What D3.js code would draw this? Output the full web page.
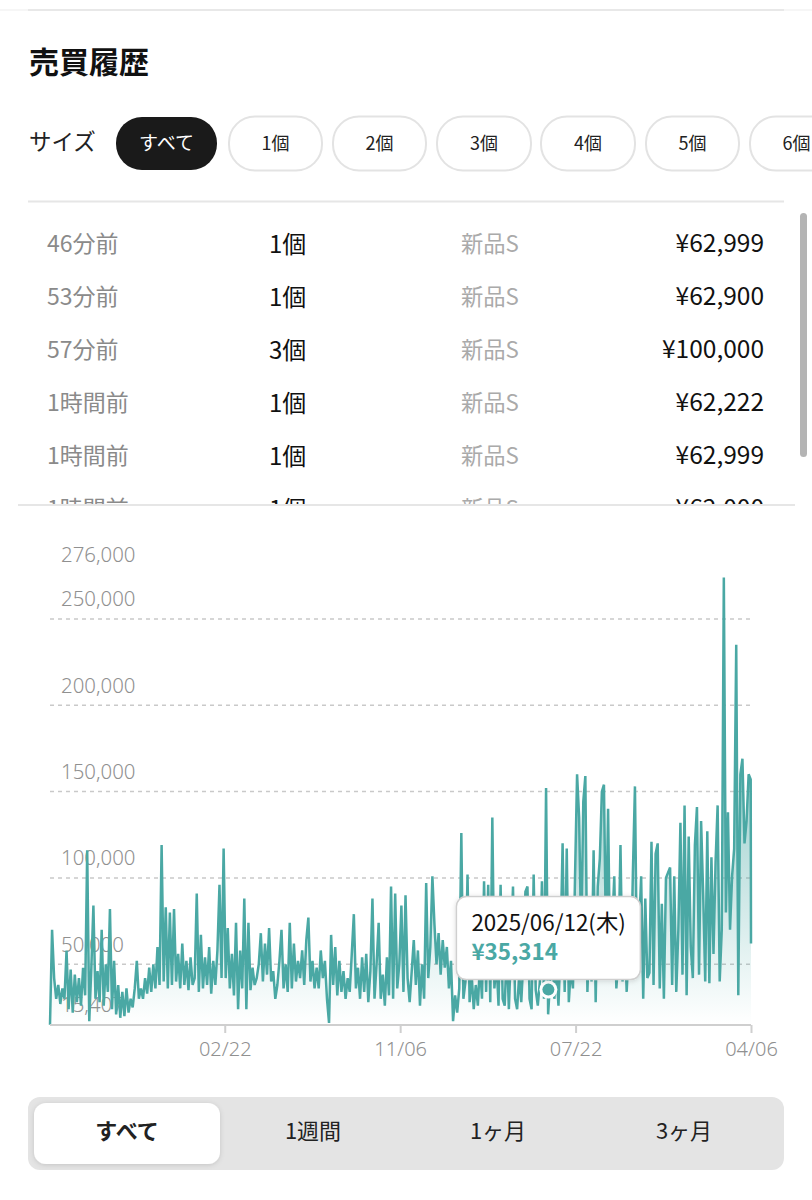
<!DOCTYPE html>
<html lang="ja"><head><meta charset="utf-8">
<script src="https://cdn.jsdelivr.net/npm/d3@7"></script>
<style>
html,body{margin:0;padding:0;background:#fff;overflow:hidden}
svg{display:block}
text{font-family:"Noto Sans CJK JP","Noto Sans",sans-serif}
</style></head><body>
<svg id="c" width="812" height="1200" viewBox="0 0 812 1200"></svg>
<script>
// ---------- data ----------
const sizeLabels = ["すべて","1個","2個","3個","4個","5個","6個"];
const rowTimes = ["46分前","53分前","57分前","1時間前","1時間前","1時間前"];
const rowSizes = ["1個","1個","3個","1個","1個","1個"];
const rowConditions = ["新品S","新品S","新品S","新品S","新品S","新品S"];
const rowPrices = ["¥62,999","¥62,900","¥100,000","¥62,222","¥62,999","¥62,000"];
const rangeLabels = ["すべて","1週間","1ヶ月","3ヶ月"];
const yTicks = [15407,50000,100000,150000,200000,250000,276000];
const gridTicks = [50000,100000,150000,200000,250000];
const xTickDates = ["2024-02-22","2024-11-06","2025-07-22","2026-04-06"];
const startDate = "2023-06-10";
const endDate = "2026-04-06";
const stepDays = 3.04;
const tooltipDate = "2025-06-12";
const tooltipPrice = 35314;
// prices in thousand yen, one reading about every three days
const pricesK = [
15,70,42,30,38,27,36,30,58,24,
47,22,44,28,42,26,48,32,116,17,
48,84,30,46,28,70,26,50,34,82,
24,52,21,38,19,34,20,36,22,30,
25,36,52,30,36,30,42,33,48,34,
50,36,60,38,119,40,83,36,80,38,
82,40,56,36,62,38,52,35,54,38,
42,91,34,67,36,54,38,60,33,52,
38,58,96,42,117,42,71,36,56,32,
74,24,58,36,88,24,74,35,48,38,
42,50,68,40,62,44,71,40,46,30,
38,52,70,36,50,34,74,36,62,40,
52,42,58,38,64,77,40,52,36,48,
36,58,42,52,30,16,67,38,60,32,
52,34,46,30,42,34,56,79,36,48,
30,54,34,56,28,46,88,30,50,74,
30,44,26,54,32,95,30,91,36,50,
84,34,90,42,28,46,64,38,58,26,
50,30,97,42,60,101,73,50,68,44,
64,48,60,36,52,17,32,22,36,126,
30,40,102,28,44,24,38,26,50,30,
98,34,96,28,135,36,52,26,96,30,
26,60,24,58,95,30,24,44,28,52,
92,95,30,24,102,35,26,40,98,30,
152,21,42,58,30,46,26,60,120,34,
117,28,48,36,100,160,135,62,144,159,
34,72,40,116,28,95,111,150,154,60,
140,48,72,101,36,54,119,40,70,34,
60,42,103,153,44,70,101,30,88,42,
45,121,38,114,120,36,85,30,100,103,
106,38,101,34,70,132,44,142,32,124,
60,42,119,141,44,133,91,40,127,39,
112,56,109,142,40,70,274,80,138,70,
101,117,235,32,160,169,120,133,160,157,
62];

// ---------- layout ----------
const W = 812, plot = {left:50,right:751,top:574,bottom:1024};
const teal = "#4aa8a4";
const svg = d3.select("#c");
const defs = svg.append("defs");

const parse = d3.timeParse("%Y-%m-%d");
const t0 = parse(startDate), t1 = parse(endDate);
const series = pricesK.map((k,i)=>({
  date:new Date(Math.min(+t1, +t0 + i*stepDays*864e5)),
  value:k*1000
}));
const x = d3.scaleTime().domain([t0,t1]).range([plot.left,plot.right]);
const y = d3.scaleLinear().domain([15407,276000]).range([plot.bottom,plot.top]);

const grad = defs.append("linearGradient").attr("id","fade")
  .attr("gradientUnits","userSpaceOnUse")
  .attr("x1",0).attr("x2",0).attr("y1",plot.top).attr("y2",plot.bottom);
grad.append("stop").attr("offset",0).attr("stop-color",teal).attr("stop-opacity",0.95);
grad.append("stop").attr("offset",1).attr("stop-color",teal).attr("stop-opacity",0);

defs.append("clipPath").attr("id","listClip").append("rect")
  .attr("x",0).attr("y",205).attr("width",W).attr("height",300);
const shadow = defs.append("filter").attr("id","sh").attr("x","-20%").attr("y","-20%").attr("width","140%").attr("height","150%");
shadow.append("feDropShadow").attr("dx",0).attr("dy",1).attr("stdDeviation",2.5).attr("flood-color","#000").attr("flood-opacity",0.14);

// ---------- header ----------
svg.append("rect").attr("width",W).attr("height",1200).attr("fill","#fff");
svg.append("line").attr("x1",0).attr("x2",W).attr("y1",10).attr("y2",10).attr("stroke","#f6f6f6").attr("stroke-width",2);
svg.append("line").attr("x1",28).attr("x2",784).attr("y1",10).attr("y2",10).attr("stroke","#e8e8e8").attr("stroke-width",2);
svg.append("text").attr("x",29).attr("y",73).attr("font-size",30).attr("font-weight",700).attr("fill","#111").text("売買履歴");
svg.append("text").attr("x",29).attr("y",150).attr("font-size",22.5).attr("fill","#222").text("サイズ");

const pillX = [116,229,333,437,541,646,750], pillW = [101,93,93,94,94,93,93];
const pills = svg.append("g").selectAll("g").data(sizeLabels).join("g");
pills.append("rect")
  .attr("x",(d,i)=>pillX[i]).attr("y",(d,i)=>i?116.5:117)
  .attr("width",(d,i)=>pillW[i]).attr("height",(d,i)=>i?54:53).attr("rx",26)
  .attr("fill",(d,i)=>i?"#fff":"#1a1a1a").attr("stroke",(d,i)=>i?"#e3e3e3":"none").attr("stroke-width",2);
pills.append("text")
  .attr("x",(d,i)=>pillX[i]+pillW[i]/2).attr("y",150).attr("text-anchor","middle")
  .attr("font-size",(d,i)=>i?18:19).attr("fill",(d,i)=>i?"#222":"#fff").text(d=>d);
svg.append("line").attr("x1",28).attr("x2",784).attr("y1",201.5).attr("y2",201.5).attr("stroke","#e6e6e6").attr("stroke-width",2);

// ---------- list ----------
const list = svg.append("g").attr("clip-path","url(#listClip)");
const rowY = i => 252 + i*53;
list.selectAll("text.a").data(rowTimes).join("text").attr("class","a")
  .attr("x",47).attr("y",(d,i)=>rowY(i)).attr("font-size",23).attr("fill","#8a8a8a").text(d=>d);
list.selectAll("text.b").data(rowSizes).join("text").attr("class","b")
  .attr("x",269).attr("y",(d,i)=>rowY(i)+1).attr("font-size",24).attr("fill","#111").text(d=>d);
list.selectAll("text.c").data(rowConditions).join("text").attr("class","c")
  .attr("x",461).attr("y",(d,i)=>rowY(i)).attr("font-size",22.3).attr("fill","#aaa").text(d=>d);
list.selectAll("text.d").data(rowPrices).join("text").attr("class","d")
  .attr("x",764).attr("y",(d,i)=>rowY(i)).attr("text-anchor","end").attr("font-size",24.5).attr("fill","#111").text(d=>d);
svg.append("rect").attr("x",800).attr("y",213).attr("width",7).attr("height",244).attr("rx",3.5).attr("fill","#b4b4b4");
svg.append("line").attr("x1",18).attr("x2",795).attr("y1",505).attr("y2",505).attr("stroke","#e6e6e6").attr("stroke-width",2);

// ---------- chart ----------
const chart = svg.append("g");
chart.append("g").selectAll("line").data(gridTicks).join("line")
  .attr("x1",plot.left).attr("x2",plot.right).attr("y1",d=>y(d)).attr("y2",d=>y(d))
  .attr("stroke","#c9c9c9").attr("stroke-width",1.5).attr("stroke-dasharray","4 4");

const yAxis = d3.axisLeft(y).tickValues(yTicks).tickFormat(d3.format(",")).tickSize(0);
const yg = chart.append("g").attr("transform",`translate(${plot.left},0)`).call(yAxis);
yg.select(".domain").remove();
yg.selectAll("text").attr("x",11).attr("dy",-13).attr("text-anchor","start")
  .attr("font-size",20.4).attr("fill","#909090").style("font-family",'"Noto Sans","Noto Sans CJK JP",sans-serif').attr("font-weight",300);

const area = d3.area().x(d=>x(d.date)).y0(plot.bottom).y1(d=>y(d.value));
chart.append("path").datum(series).attr("d",area).attr("fill","url(#fade)");
const line = d3.line().x(d=>x(d.date)).y(d=>y(d.value));
chart.append("path").datum(series).attr("d",line).attr("fill","none").attr("stroke",teal)
  .attr("stroke-width",2.5).attr("stroke-linejoin","bevel");

const xAxis = d3.axisBottom(x).tickValues(xTickDates.map(parse)).tickFormat(d3.timeFormat("%m/%d")).tickSize(8).tickPadding(9);
const xg = chart.append("g").attr("transform",`translate(0,${plot.bottom+1})`).call(xAxis);
xg.select(".domain").attr("stroke","#cfcfcf").attr("stroke-width",2).attr("d",`M${plot.left},0H${plot.right}`);
xg.selectAll(".tick line").attr("stroke","#cfcfcf").attr("stroke-width",2);
xg.selectAll("text").attr("font-size",20).attr("fill","#909090").style("font-family",'"Noto Sans","Noto Sans CJK JP",sans-serif').attr("font-weight",300);

// ---------- tooltip ----------
const tipDate = parse(tooltipDate);
chart.append("circle").attr("cx",x(tipDate)).attr("cy",y(tooltipPrice)).attr("r",9).attr("fill","#fff");
chart.append("circle").attr("cx",x(tipDate)).attr("cy",y(tooltipPrice)).attr("r",6).attr("fill",teal);
const tipX = x(tipDate)-92, tipY = y(tooltipPrice)-93;
chart.append("rect").attr("x",tipX).attr("y",tipY).attr("width",184).attr("height",83).attr("rx",10)
  .attr("fill","#fff").attr("stroke","#cfcfcf").attr("stroke-width",1.5).attr("filter","url(#sh)");
const week = "日月火水木金土";
chart.append("text").attr("x",tipX+15).attr("y",tipY+34).attr("font-size",22.4).attr("fill","#111")
  .text(d3.timeFormat("%Y/%m/%d")(tipDate)+"("+week[tipDate.getDay()]+")");
chart.append("text").attr("x",tipX+15).attr("y",tipY+63).attr("font-size",22.4).attr("font-weight",700).attr("fill",teal)
  .text("¥"+d3.format(",")(tooltipPrice));

// ---------- range selector ----------
svg.append("rect").attr("x",28).attr("y",1097).attr("width",756).attr("height",73).attr("rx",12).attr("fill","#e4e4e4");
svg.append("rect").attr("x",34).attr("y",1103).attr("width",186).attr("height",61).attr("rx",12).attr("fill","#fff").attr("filter","url(#sh)");
const rangeX = [127,313,498,684];
svg.append("g").selectAll("text").data(rangeLabels).join("text")
  .attr("x",(d,i)=>rangeX[i]).attr("y",1139).attr("text-anchor","middle").attr("font-size",22)
  .attr("font-weight",(d,i)=>i?400:700).attr("fill","#222").text(d=>d);
</script>
</body></html>
